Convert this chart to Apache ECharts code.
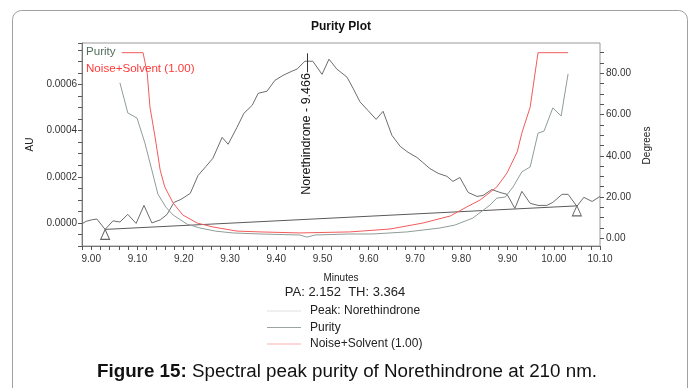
<!DOCTYPE html>
<html><head><meta charset="utf-8">
<script src="https://cdn.jsdelivr.net/npm/echarts@6/dist/echarts.min.js"></script>
<style>html,body{margin:0;padding:0;background:#fff}#c{width:694px;height:388px}</style>
</head><body><div id="c"></div>
<script>
const FONT = '"Liberation Sans", Arial, sans-serif';

// Chromatogram (AU) of the Norethindrone peak
const peakTime = [8.980, 8.989, 9.000, 9.012, 9.030, 9.047, 9.062, 9.079, 9.097, 9.114, 9.131, 9.149, 9.164, 9.179, 9.194, 9.214, 9.231, 9.248, 9.263, 9.283, 9.296, 9.315, 9.330, 9.348, 9.361, 9.380, 9.397, 9.415, 9.434, 9.445, 9.462, 9.479, 9.499, 9.514, 9.531, 9.553, 9.566, 9.581, 9.598, 9.616, 9.631, 9.650, 9.668, 9.685, 9.704, 9.717, 9.732, 9.750, 9.769, 9.782, 9.797, 9.815, 9.834, 9.847, 9.866, 9.884, 9.899, 9.916, 9.931, 9.949, 9.966, 9.985, 9.998, 10.018, 10.031, 10.050, 10.065, 10.083, 10.100];
const peakAU = [-0.000004, 0.000007, 0.000013, 0.000017, -0.000028, 0.000009, 0.000004, 0.000037, -0.000002, 0.000076, 0.000000, 0.000013, 0.000037, 0.000089, 0.000102, 0.000128, 0.000206, 0.000245, 0.000280, 0.000371, 0.000341, 0.000414, 0.000475, 0.000510, 0.000562, 0.000571, 0.000618, 0.000640, 0.000658, 0.000667, 0.000701, 0.000701, 0.000644, 0.000710, 0.000667, 0.000632, 0.000584, 0.000525, 0.000488, 0.000449, 0.000484, 0.000380, 0.000332, 0.000306, 0.000284, 0.000262, 0.000236, 0.000215, 0.000202, 0.000180, 0.000197, 0.000132, 0.000115, 0.000119, 0.000145, 0.000132, 0.000124, 0.000063, 0.000137, 0.000085, 0.000076, 0.000076, 0.000089, 0.000124, 0.000124, 0.000072, 0.000111, 0.000093, 0.000115];

// Purity angle (degrees)
const purityTime = [9.062, 9.079, 9.099, 9.116, 9.131, 9.144, 9.161, 9.177, 9.207, 9.235, 9.268, 9.306, 9.365, 9.451, 9.466, 9.484, 9.559, 9.609, 9.683, 9.754, 9.786, 9.825, 9.862, 9.877, 9.895, 9.912, 9.931, 9.949, 9.966, 9.979, 9.998, 10.016, 10.031];
const purityDeg = [75.4, 60.8, 58.3, 46.2, 33.1, 21.5, 15.2, 11.3, 6.9, 5.0, 3.5, 2.6, 2.1, 1.6, 0.6, 1.6, 2.1, 2.1, 3.1, 5.0, 6.4, 9.8, 16.1, 19.5, 20.0, 24.9, 32.2, 34.6, 51.0, 52.0, 63.2, 59.3, 79.7];

// Noise + solvent threshold (degrees)
const noiseTime = [9.066, 9.112, 9.121, 9.127, 9.138, 9.149, 9.159, 9.177, 9.198, 9.229, 9.263, 9.315, 9.365, 9.451, 9.559, 9.646, 9.717, 9.776, 9.812, 9.841, 9.877, 9.899, 9.921, 9.931, 9.949, 9.966, 10.031];
const noiseDeg = [90, 90, 80.1, 63.6, 49.1, 33.1, 24.9, 17.1, 11.3, 7.4, 5.5, 3.5, 3.1, 2.6, 3.1, 4.5, 7.4, 10.8, 15.2, 18.6, 24.9, 31.7, 41.9, 51.0, 63.6, 90, 90];

// Integration baseline (AU)
const baselineTime = [9.030, 10.050];
const baselineAU = [-0.000028, 0.000074];

// Peak annotation
const peakName = 'Norethindrone';
const peakApex = 9.466;
const peakLabelAU = 0.000386;
const peakTickAU = [0.000735, 0.000653];

// Axis ranges / ticks
const xRange = [8.98, 10.10], xStep = 0.02, xLabelStep = 0.1;
const auRange = [-0.0001, 0.00078], auStep = 0.00005, auLabelStep = 0.0002;
const degRange = [0, 90], degStep = 5, degLabelStep = 20;

const titleText = 'Purity Plot';
const statsText = 'PA: 2.152  TH: 3.364';
const captionBold = 'Figure 15:';
const captionText = ' Spectral peak purity of Norethindrone at 210 nm.';

const zip = (a, b) => a.map((v, i) => [v, b[i]]);
const onStep = (v, s) => Math.abs(v / s - Math.round(v / s)) < 1e-6;

const chart = echarts.init(document.getElementById('c'), null, {renderer: 'canvas'});
const option = {
  animation: false,
  textStyle: {fontFamily: FONT},
  graphic: [{type: 'rect', silent: true, z: -10,
    shape: {x: 12.5, y: 10.5, width: 675, height: 430, r: 9},
    style: {fill: 'none', stroke: '#a0a0a0', lineWidth: 1}}],
  title: [
    {text: titleText, left: 341, top: 21, padding: 0, textAlign: 'center',
     textStyle: {fontSize: 12, fontWeight: 'bold', color: '#111', fontFamily: FONT}},
    {text: statsText, left: 345, top: 286, padding: 0, textAlign: 'center',
     textStyle: {fontSize: 13, fontWeight: 'normal', color: '#222', fontFamily: FONT}},
    {text: '{b|' + captionBold + '}' + captionText, left: 347, top: 362, padding: 0, textAlign: 'center',
     textStyle: {fontSize: 18.8, fontWeight: 'normal', color: '#111', fontFamily: FONT,
       rich: {b: {fontSize: 18.8, fontWeight: 'bold', color: '#111', fontFamily: FONT}}}}
  ],
  legend: [
    {orient: 'vertical', left: 81, top: 46, padding: 0, itemGap: 5, itemWidth: 0, itemHeight: 0,
     icon: 'rect', selectedMode: false,
     textStyle: {fontSize: 11.6, fontFamily: FONT},
     data: [{name: 'Purity', textStyle: {color: '#52705f'}},
            {name: 'Noise+Solvent (1.00)', textStyle: {color: '#ff3a3a'}}]},
    {orient: 'vertical', left: 267, top: 305, padding: 0, itemGap: 4.5, itemWidth: 34, itemHeight: 1,
     icon: 'rect', selectedMode: false,
     textStyle: {fontSize: 12, color: '#222', fontFamily: FONT, padding: [0, 0, 0, 4]},
     data: [{name: 'Peak: ' + peakName, itemStyle: {color: '#e0e0e0'}},
            {name: 'Purity', itemStyle: {color: '#9aa6a2'}},
            {name: 'Noise+Solvent (1.00)', itemStyle: {color: '#ffb0b0'}}]}
  ],
  grid: [
    {left: 82, right: 94, top: 43, bottom: 142, show: true, borderColor: '#9a9a9a', borderWidth: 1, containLabel: false, outerBoundsMode: 'none'},
    {left: 82, right: 94, top: 52.7, bottom: 149.7, show: false, containLabel: false, outerBoundsMode: 'none'}
  ],
  xAxis: [
    {type: 'value', gridIndex: 0, min: xRange[0], max: xRange[1], interval: xStep,
     axisLine: {show: true, onZero: false, lineStyle: {color: '#777'}},
     axisTick: {show: true, length: 4, lineStyle: {color: '#555'}},
     axisLabel: {fontSize: 10, color: '#333', margin: 8, fontFamily: FONT,
       formatter: v => onStep(v, xLabelStep) ? v.toFixed(2) : ''},
     splitLine: {show: false},
     name: 'Minutes', nameLocation: 'middle', nameGap: 27,
     nameTextStyle: {fontSize: 10, color: '#222', fontFamily: FONT}},
    {type: 'value', gridIndex: 1, min: xRange[0], max: xRange[1], show: false,
     axisLine: {onZero: false}}
  ],
  yAxis: [
    {type: 'value', gridIndex: 0, position: 'left', min: auRange[0], max: auRange[1], interval: auStep,
     axisLine: {show: true, onZero: false, lineStyle: {color: '#777'}},
     axisTick: {show: true, length: 4, lineStyle: {color: '#555'}},
     axisLabel: {fontSize: 10, color: '#333', margin: 5, fontFamily: FONT,
       formatter: v => { if (Math.abs(v) < 1e-12) v = 0; return onStep(v, auLabelStep) ? v.toFixed(4) : ''; }},
     splitLine: {show: false},
     name: 'AU', nameLocation: 'middle', nameGap: 40, nameRotate: 90,
     nameTextStyle: {fontSize: 10, color: '#222', fontFamily: FONT}},
    {type: 'value', gridIndex: 1, position: 'right', min: degRange[0], max: degRange[1], interval: degStep,
     axisLine: {show: false, onZero: false},
     axisTick: {show: true, length: 4, lineStyle: {color: '#555'}},
     axisLabel: {fontSize: 10, color: '#333', margin: 6, fontFamily: FONT,
       formatter: v => onStep(v, degLabelStep) ? v.toFixed(2) : ''},
     splitLine: {show: false},
     name: 'Degrees', nameLocation: 'middle', nameGap: 40, nameRotate: 90,
     nameTextStyle: {fontSize: 10, color: '#222', fontFamily: FONT}}
  ],
  series: [
    {name: 'Peak: ' + peakName, type: 'line', xAxisIndex: 0, yAxisIndex: 0,
     data: zip(peakTime, peakAU), symbol: 'none', showSymbol: false,
     lineStyle: {color: '#6c6c6c', width: 1}, itemStyle: {color: '#6c6c6c'},
     markLine: {silent: true, symbol: ['none', 'none'], animation: false,
       lineStyle: {color: '#333', width: 1, type: 'solid'}, label: {show: false},
       data: [[{coord: [peakApex, peakTickAU[0]]}, {coord: [peakApex, peakTickAU[1]]}]]},
     markPoint: {silent: true, symbol: 'circle', symbolSize: 1, animation: false,
       itemStyle: {color: 'rgba(0,0,0,0)'},
       label: {show: true, position: 'inside', rotate: 90, color: '#111', fontSize: 12.5, fontFamily: FONT,
         formatter: peakName + ' - ' + peakApex.toFixed(3)},
       data: [{coord: [peakApex, peakLabelAU]}]}},
    {name: 'Baseline', type: 'line', xAxisIndex: 0, yAxisIndex: 0,
     data: zip(baselineTime, baselineAU), symbol: 'triangle', showSymbol: true, symbolSize: [9, 10],
     symbolOffset: [0, 5], lineStyle: {color: '#5a5a5a', width: 1},
     itemStyle: {color: 'rgba(255,255,255,0)', borderColor: '#666', borderWidth: 1}, z: 3},
    {name: 'Purity', type: 'line', xAxisIndex: 1, yAxisIndex: 1, clip: false,
     data: zip(purityTime, purityDeg), symbol: 'none', showSymbol: false,
     lineStyle: {color: '#8e9d96', width: 1}, itemStyle: {color: '#8e9d96'}},
    {name: 'Noise+Solvent (1.00)', type: 'line', xAxisIndex: 1, yAxisIndex: 1, clip: false,
     data: zip(noiseTime, noiseDeg), symbol: 'none', showSymbol: false,
     lineStyle: {color: '#f45a5a', width: 1}, itemStyle: {color: '#f45a5a'}}
  ]
};
chart.setOption(option);
</script>
</body></html>
